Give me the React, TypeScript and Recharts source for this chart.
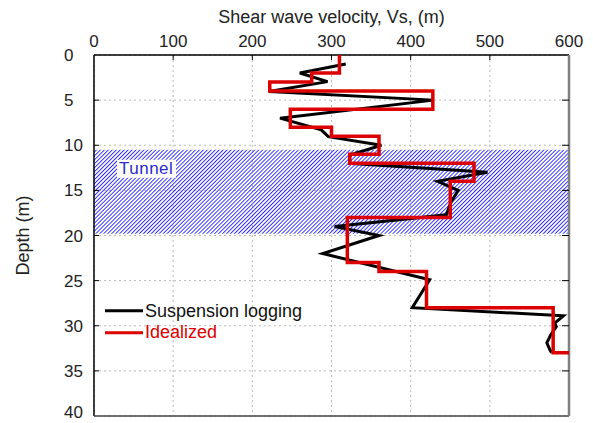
import React from 'react';
import { LineChart, Line, XAxis, YAxis, CartesianGrid, ReferenceArea, ReferenceLine, Legend } from 'recharts';

const velocityTicks = [0, 100, 200, 300, 400, 500, 600];
const depthTicks = [0, 5, 10, 15, 20, 25, 30, 35, 40];

const suspensionVelocity = [318, 260, 295, 221, 429, 235, 287, 296, 363, 323, 323, 497, 434, 460, 451, 445, 304, 360, 289, 424, 402, 593, 582, 584, 577, 572, 576, 578];
const suspensionDepth = [1.0, 2.0, 2.95, 4.05, 5.0, 7.0, 8.3, 9.05, 10.0, 11.1, 12.0, 13.0, 14.0, 15.0, 16.3, 17.7, 19.0, 20.0, 22.0, 24.9, 28.0, 28.9, 29.7, 30.1, 31.0, 31.9, 32.7, 33.0];

const idealizedVelocity = [310, 310, 275, 275, 222, 222, 428, 428, 248, 248, 300, 300, 360, 360, 323, 323, 480, 480, 450, 450, 320, 320, 360, 360, 420, 420, 580, 580, 600];
const idealizedDepth = [0, 2, 2, 3, 3, 4, 4, 6, 6, 8, 8, 9, 9, 11, 11, 12, 12, 14, 14, 18, 18, 23, 23, 24, 24, 28, 28, 33, 33];

const tunnelTop = 10.5;
const tunnelBottom = 19.8;

const seriesNames = ['Suspension logging', 'Idealized'];
const seriesColors = ['#000000', '#dd0000'];

const suspension = suspensionVelocity.map((v, i) => ({ v, d: suspensionDepth[i] }));
const idealized = idealizedVelocity.map((v, i) => ({ v, d: idealizedDepth[i] }));

const FONT = '"Liberation Sans", Arial, sans-serif';
const CHART_W = 585;
const CHART_H = 415;
const MARGIN = { top: 0, right: 24, bottom: 7, left: 0 };
const PLOT_RIGHT = CHART_W - MARGIN.right;

const TopTick = (props: any) => {
  const { x, y, payload } = props;
  const v = payload.value;
  return (
    <g>
      {v > 0 && v < 600 ? <line x1={x} x2={x} y1={y} y2={y + 5} stroke="#000" strokeWidth={1} /> : null}
      <text x={x} y={y - 8} textAnchor="middle" fontFamily={FONT} fontSize={17} fill="#222">
        {v}
      </text>
    </g>
  );
};

const LeftTick = (props: any) => {
  const { x, y, payload } = props;
  const v = payload.value;
  return (
    <g>
      {v > 0 && v < 40 ? <line x1={x} x2={x + 5} y1={y} y2={y} stroke="#000" strokeWidth={1} /> : null}
      {v > 0 && v < 40 ? <line x1={PLOT_RIGHT - 7} x2={PLOT_RIGHT} y1={y} y2={y} stroke="#000" strokeWidth={1} /> : null}
      <text x={x - 30} y={v === 40 ? y + 2 : y + 6} textAnchor="start" fontFamily={FONT} fontSize={17} fill="#222">
        {v}
      </text>
    </g>
  );
};

const renderTunnelLabel = (props: any) => {
  const vb = props.viewBox || {};
  return (
    <g>
      <rect x={vb.x + 23} y={vb.y + 10} width={59} height={18} fill="#fff" />
      <text x={vb.x + 25} y={vb.y + 24} fontFamily={FONT} fontSize={17} letterSpacing={0.5} fill="#2a2ad0">
        Tunnel
      </text>
    </g>
  );
};

const renderLegend = () => (
  <svg width={220} height={50}>
    {seriesNames.map((name, i) => (
      <g key={name}>
        <line x1={0} x2={38} y1={10.7 + i * 22} y2={10.7 + i * 22} stroke={seriesColors[i]} strokeWidth={3} />
        <text x={40} y={16.7 + i * 21.6} fontFamily={FONT} fontSize={18} fill={i === 0 ? '#111' : seriesColors[i]}>
          {name}
        </text>
      </g>
    ))}
  </svg>
);

export default function App() {
  return (
    <LineChart width={CHART_W} height={CHART_H} margin={MARGIN}>
      <defs>
        <pattern id="hatch" patternUnits="userSpaceOnUse" width={2.8} height={2.8} patternTransform="rotate(45)">
          <line x1={0.5} y1={0} x2={0.5} y2={2.8} stroke="#1f1fff" strokeWidth={0.9} />
        </pattern>
      </defs>
      <CartesianGrid stroke="#bbbbbb" strokeDasharray="2 3" />
      <XAxis
        type="number"
        dataKey="v"
        orientation="top"
        domain={[0, 600]}
        ticks={velocityTicks}
        interval={0}
        height={47}
        tickSize={0}
        tickMargin={0}
        axisLine={false}
        tickLine={false}
        tick={<TopTick />}
        allowDataOverflow
        label={{
          content: (p: any) => {
            const vb = p.viewBox || {};
            return (
              <text x={vb.x + vb.width / 2} y={vb.y + 15} textAnchor="middle" fontFamily={FONT} fontSize={18} fill="#222">
                Shear wave velocity, Vs, (m)
              </text>
            );
          },
        }}
      />
      <YAxis
        type="number"
        dataKey="d"
        reversed
        domain={[0, 40]}
        ticks={depthTicks}
        interval={0}
        width={86}
        tickSize={0}
        tickMargin={0}
        axisLine={false}
        tickLine={false}
        tick={<LeftTick />}
        allowDataOverflow
        label={{
          content: (p: any) => {
            const vb = p.viewBox || {};
            const cy = vb.y + vb.height / 2;
            return (
              <text x={21} y={cy} transform={`rotate(-90, 21, ${cy})`} textAnchor="middle" fontFamily={FONT} fontSize={18} fill="#222">
                Depth (m)
              </text>
            );
          },
        }}
      />
      <ReferenceArea y1={tunnelTop} y2={tunnelBottom} x1={0} x2={600} fill="url(#hatch)" fillOpacity={1} stroke="none" label={renderTunnelLabel} />
      <ReferenceLine y={0} stroke="#000" strokeWidth={1.5} />
      <ReferenceLine x={0} stroke="#000" strokeWidth={1.5} />
      <ReferenceLine y={40} stroke="#444" strokeWidth={1.5} />
      <ReferenceLine x={600} stroke="#808080" strokeWidth={2.5} />
      <Legend
        layout="horizontal"
        verticalAlign="middle"
        content={renderLegend}
        wrapperStyle={{ position: 'absolute', left: 97, top: 292, width: 220, height: 50 }}
      />
      <Line
        data={suspension}
        dataKey="d"
        name={seriesNames[0]}
        stroke={seriesColors[0]}
        strokeWidth={3}
        dot={false}
        type="linear"
        isAnimationActive={false}
      />
      <Line
        data={idealized}
        dataKey="d"
        name={seriesNames[1]}
        stroke={seriesColors[1]}
        strokeWidth={3.5}
        dot={false}
        type="linear"
        strokeLinejoin="miter"
        isAnimationActive={false}
      />
    </LineChart>
  );
}
